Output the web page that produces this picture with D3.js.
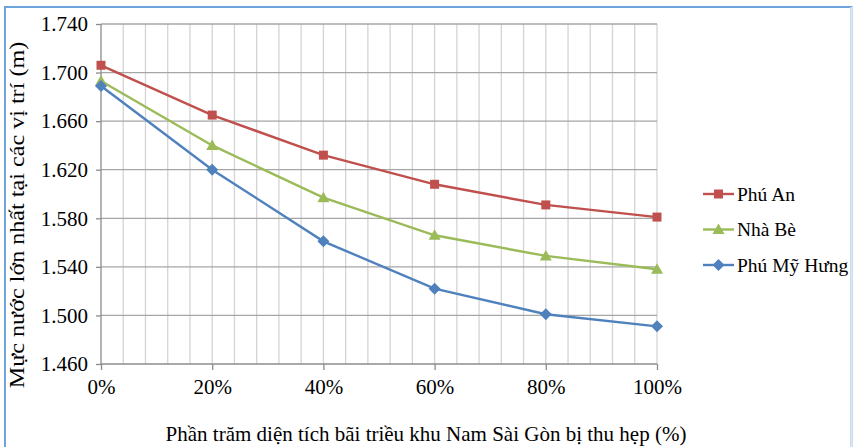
<!DOCTYPE html>
<html>
<head>
<meta charset="utf-8">
<script src="https://cdn.jsdelivr.net/npm/d3@7"></script>
<style>
  html, body { margin: 0; padding: 0; background: #fff; }
  svg { display: block; }
</style>
</head>
<body>
<script>
// Share of the Nam Sài Gòn tidal flat area that is lost (%)
const reduction = [0, 20, 40, 60, 80, 100];
// Maximum water level at each station (m)
const phuAn    = [1.706, 1.665, 1.632, 1.608, 1.591, 1.581];
const nhaBe    = [1.693, 1.640, 1.597, 1.566, 1.549, 1.538];
const phuMyHung = [1.689, 1.620, 1.561, 1.522, 1.501, 1.491];
const seriesNames = ["Phú An", "Nhà Bè", "Phú Mỹ Hưng"];
const yTicks = [1.460, 1.500, 1.540, 1.580, 1.620, 1.660, 1.700, 1.740];
const xTicks = [0, 20, 40, 60, 80, 100];

const W = 853, H = 447;
const FONT = "'Liberation Serif', 'Times New Roman', serif";
const plot = { left: 101, right: 657, top: 24, bottom: 364 };

const series = [
  { name: seriesNames[0], values: phuAn,     color: "#c0504d", marker: "square" },
  { name: seriesNames[1], values: nhaBe,     color: "#9bbb59", marker: "triangle" },
  { name: seriesNames[2], values: phuMyHung, color: "#4f81bd", marker: "diamond" }
];

const svg = d3.select("body").append("svg").attr("width", W).attr("height", H);

// outer frame
svg.append("rect").attr("x", 5).attr("y", 7).attr("width", 846.5).attr("height", 450)
  .attr("fill", "none").attr("stroke", "#6fa3dc").attr("stroke-width", 2);
svg.append("line").attr("x1", 851.5).attr("x2", 851.5).attr("y1", 7).attr("y2", H)
  .attr("stroke", "#dce8f5").attr("stroke-width", 2);

const x = d3.scaleLinear().domain([0, 100]).range([plot.left, plot.right]);
const y = d3.scaleLinear().domain([1.460, 1.740]).range([plot.bottom, plot.top]);

// vertical grid every 4 %
const g = svg.append("g");
g.selectAll("line.vg").data(d3.range(4, 101, 4)).join("line")
  .attr("class", "vg")
  .attr("x1", d => x(d)).attr("x2", d => x(d))
  .attr("y1", plot.top).attr("y2", plot.bottom)
  .attr("stroke", "#d4d4d4").attr("stroke-width", 1.3);

// horizontal grid
g.selectAll("line.hg").data(yTicks.slice(1)).join("line")
  .attr("class", "hg")
  .attr("x1", plot.left).attr("x2", plot.right)
  .attr("y1", d => y(d)).attr("y2", d => y(d))
  .attr("stroke", "#a6a6a6").attr("stroke-width", 1.3);

// axes
const yAxis = d3.axisLeft(y).tickValues(yTicks).tickFormat(d3.format(".3f")).tickSize(5).tickPadding(8);
const yg = svg.append("g").attr("transform", `translate(${plot.left},0)`).call(yAxis);
const xAxis = d3.axisBottom(x).tickValues(xTicks).tickFormat(d => d + "%").tickSize(6).tickPadding(9);
const xg = svg.append("g").attr("transform", `translate(0,${plot.bottom})`).call(xAxis);
[yg, xg].forEach(a => {
  a.attr("font-family", null).attr("font-size", null);
  a.select(".domain").attr("stroke", "#8c8c8c").attr("stroke-width", 1.3);
  a.selectAll(".tick line").attr("stroke", "#8c8c8c").attr("stroke-width", 1.3);
  a.selectAll(".tick text").style("font-family", FONT).style("font-size", "21px").attr("fill", "#000");
});
xg.select(".domain").attr("d", `M${plot.left},0H${plot.right}`);
yg.select(".domain").attr("d", `M0,${plot.top}V${plot.bottom}`);

// markers
function markerPath(type, size) {
  if (type === "square") return `M${-size/2},${-size/2}h${size}v${size}h${-size}Z`;
  if (type === "triangle") return `M0,${-size*0.6}L${size*0.6},${size*0.45}L${-size*0.6},${size*0.45}Z`;
  return `M0,${-size*0.6}L${size*0.6},0L0,${size*0.6}L${-size*0.6},0Z`;
}

const line = d3.line().x((d, i) => x(reduction[i])).y(d => y(d));
series.forEach(s => {
  svg.append("path").datum(s.values)
    .attr("d", line).attr("fill", "none")
    .attr("stroke", s.color).attr("stroke-width", 2.4);
  svg.append("g").selectAll("path").data(s.values).join("path")
    .attr("transform", (d, i) => `translate(${x(reduction[i])},${y(d)})`)
    .attr("d", markerPath(s.marker, s.marker === "square" ? 9 : 10))
    .attr("fill", s.color);
});

// legend
const leg = svg.append("g");
series.forEach((s, i) => {
  const ly = 194 + i * 35.5;
  leg.append("line").attr("x1", 703).attr("x2", 734).attr("y1", ly).attr("y2", ly)
    .attr("stroke", s.color).attr("stroke-width", 2.4);
  leg.append("path").attr("transform", `translate(718.5,${ly})`)
    .attr("d", markerPath(s.marker, s.marker === "square" ? 9 : 10)).attr("fill", s.color);
  leg.append("text").attr("x", 737).attr("y", ly).attr("dy", "0.35em")
    .style("font-family", FONT).style("font-size", "19.5px").text(s.name);
});

// axis titles
svg.append("text").attr("x", 426).attr("y", 441)
  .attr("text-anchor", "middle").style("font-family", FONT).style("font-size", "21px")
  .text("Phần trăm diện tích bãi triều khu Nam Sài Gòn bị thu hẹp (%)");
svg.append("text")
  .attr("transform", `translate(24,215) rotate(-90) scale(1.15,1)`)
  .attr("text-anchor", "middle").style("font-family", FONT).style("font-size", "21px")
  .text("Mực nước lớn nhất tại các vị trí (m)");
</script>
</body>
</html>
